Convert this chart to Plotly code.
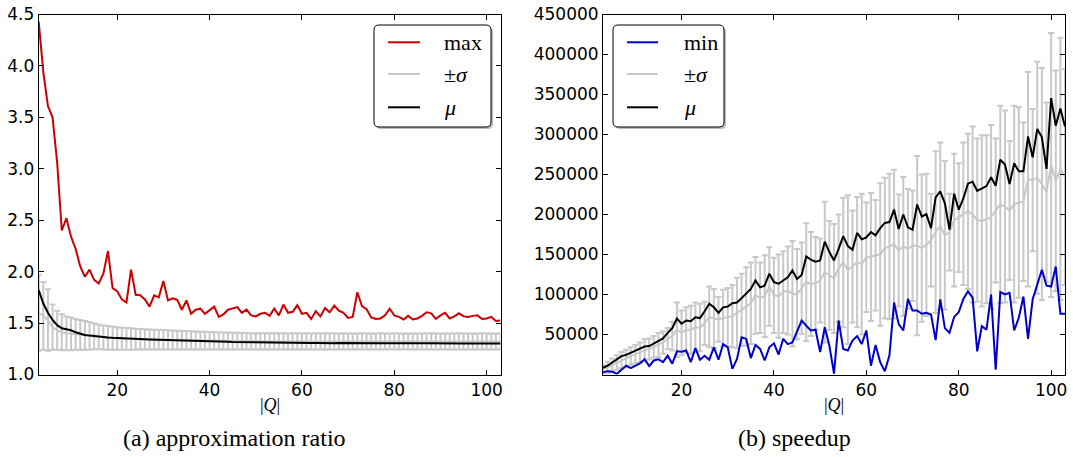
import plotly.graph_objects as go

W, H = 1073, 457

# ---------------- data ----------------
Q_SIZES = list(range(3, 104))

# (a) approximation ratio
ratio_max = [4.43, 3.94, 3.61, 3.50, 3.06, 2.40, 2.52, 2.34, 2.22, 2.05,
             1.95, 2.02, 1.92, 1.885, 1.98, 2.20, 1.84, 1.81, 1.73, 1.70,
             2.02, 1.775, 1.77, 1.73, 1.66, 1.77, 1.75, 1.91, 1.72, 1.74,
             1.725, 1.63, 1.72, 1.59, 1.63, 1.64, 1.59, 1.625, 1.66, 1.56,
             1.585, 1.63, 1.64, 1.655, 1.60, 1.63, 1.575, 1.565, 1.59, 1.60,
             1.57, 1.64, 1.575, 1.68, 1.60, 1.61, 1.675, 1.59, 1.60, 1.54,
             1.615, 1.565, 1.645, 1.605, 1.67, 1.62, 1.60, 1.55, 1.56, 1.80,
             1.665, 1.635, 1.555, 1.54, 1.545, 1.575, 1.64, 1.575, 1.56, 1.535,
             1.57, 1.535, 1.545, 1.57, 1.605, 1.595, 1.54, 1.575, 1.60, 1.545,
             1.565, 1.595, 1.565, 1.56, 1.57, 1.575, 1.54, 1.545, 1.56, 1.52,
             1.525]
ratio_mean = [1.82, 1.69, 1.60, 1.53, 1.48, 1.45, 1.44, 1.43, 1.41, 1.395,
              1.385, 1.378, 1.372, 1.368, 1.364, 1.36, 1.357, 1.354, 1.352, 1.35,
              1.349, 1.347, 1.345, 1.343, 1.341, 1.34, 1.339, 1.337, 1.335, 1.334,
              1.333, 1.331, 1.33, 1.328, 1.327, 1.325, 1.324, 1.322, 1.321, 1.32,
              1.319, 1.318, 1.316, 1.315, 1.314, 1.313, 1.312, 1.311, 1.31, 1.31,
              1.309, 1.31, 1.308, 1.309, 1.308, 1.307, 1.308, 1.306, 1.307, 1.306,
              1.307, 1.305, 1.306, 1.306, 1.305, 1.306, 1.305, 1.304, 1.305, 1.305,
              1.304, 1.305, 1.304, 1.303, 1.304, 1.304, 1.303, 1.304, 1.303, 1.303,
              1.304, 1.303, 1.302, 1.303, 1.303, 1.302, 1.303, 1.302, 1.302, 1.303,
              1.302, 1.302, 1.301, 1.302, 1.302, 1.301, 1.302, 1.301, 1.301, 1.302,
              1.301]
ratio_center = [1.60, 1.57, 1.53, 1.46, 1.43, 1.41, 1.40, 1.395, 1.39, 1.385,
                1.38, 1.375, 1.37, 1.365, 1.36, 1.356, 1.353, 1.35, 1.348, 1.346,
                1.345, 1.344, 1.342, 1.341, 1.34, 1.339, 1.338, 1.337, 1.336, 1.335,
                1.334, 1.333, 1.332, 1.331, 1.33, 1.329, 1.329, 1.328, 1.327, 1.327,
                1.326, 1.326, 1.325, 1.325, 1.324, 1.324, 1.323, 1.323, 1.323, 1.322,
                1.322, 1.323, 1.322, 1.322, 1.321, 1.322, 1.322, 1.321, 1.322, 1.321,
                1.322, 1.321, 1.321, 1.322, 1.321, 1.321, 1.322, 1.321, 1.321, 1.321,
                1.322, 1.321, 1.321, 1.321, 1.322, 1.321, 1.321, 1.321, 1.321, 1.322,
                1.321, 1.321, 1.321, 1.321, 1.322, 1.321, 1.321, 1.321, 1.321, 1.321,
                1.321, 1.322, 1.321, 1.321, 1.321, 1.321, 1.321, 1.321, 1.321, 1.321,
                1.321]
ratio_sigma = [0.37, 0.33, 0.30, 0.22, 0.19, 0.175, 0.165, 0.16, 0.15, 0.145,
               0.14, 0.135, 0.125, 0.12, 0.117, 0.115, 0.113, 0.11, 0.108, 0.106,
               0.104, 0.102, 0.10, 0.099, 0.098, 0.097, 0.096, 0.095, 0.094, 0.093,
               0.092, 0.091, 0.09, 0.089, 0.088, 0.087, 0.086, 0.085, 0.084, 0.083,
               0.083, 0.082, 0.081, 0.081, 0.08, 0.08, 0.079, 0.079, 0.079, 0.078,
               0.078, 0.079, 0.078, 0.078, 0.077, 0.078, 0.079, 0.078, 0.078, 0.077,
               0.078, 0.078, 0.079, 0.078, 0.077, 0.078, 0.078, 0.078, 0.077, 0.078,
               0.079, 0.078, 0.078, 0.077, 0.078, 0.078, 0.078, 0.079, 0.078, 0.077,
               0.078, 0.078, 0.078, 0.077, 0.078, 0.079, 0.078, 0.078, 0.077, 0.078,
               0.078, 0.078, 0.078, 0.077, 0.078, 0.078, 0.079, 0.078, 0.078, 0.078,
               0.078]

# (b) speedup
speed_min = [2900, 4200, 3500, 800, 5800, 11000, 8000, 11000, 14000, 19000,
             10500, 17500, 19000, 15500, 23500, 13500, 29000, 28500, 30000, 15500,
             33000, 18500, 23500, 18500, 34000, 18500, 38000, 34000, 7000, 19500,
             46500, 44500, 20500, 37000, 32000, 17500, 34000, 39000, 25000, 44500,
             38000, 40000, 53000, 67500, 61000, 55000, 56000, 28000, 59000, 36000,
             1000, 67500, 32000, 30000, 42500, 48000, 38000, 55000, 11000, 37000,
             15500, 4000, 24000, 90000, 63000, 55000, 94500, 80000, 80000, 76000,
             77000, 75000, 43000, 94000, 58000, 52000, 72000, 78000, 94500, 104000,
             96000, 29000, 60500, 56000, 100000, 6000, 103000, 100000, 102000, 55000,
             71000, 97500, 44500, 94000, 112500, 131000, 111000, 110000, 135000, 76000,
             76000]
speed_mean = [8300, 11000, 15000, 19000, 23000, 24500, 27000, 30000, 32000, 35000,
              35500, 38500, 42000, 45000, 52000, 58000, 70000, 63500, 67500, 66500,
              71500, 70500, 79000, 88500, 84000, 77000, 84000, 85000, 89000, 90000,
              95500, 101000, 107000, 117500, 109000, 111000, 126000, 115500, 113500, 117500,
              121500, 130000, 119500, 124500, 147500, 143500, 141000, 142500, 166000, 153000,
              142500, 157000, 173000, 160500, 156000, 177000, 169000, 171500, 178000, 174000,
              183000, 189500, 190500, 206000, 182000, 200000, 184000, 181000, 212500, 197500,
              200500, 183000, 221500, 229000, 214000, 181000, 226000, 206000, 220000, 238500,
              241000, 229500, 232000, 235500, 246500, 236000, 268500, 262500, 238000, 264000,
              254000, 254000, 297500, 271500, 307000, 296500, 257000, 345500, 311000, 332500,
              310000]
speed_center = [6000, 9000, 12000, 15000, 18000, 20000, 23000, 25500, 27500, 30000,
                32000, 34500, 37000, 40000, 45000, 48000, 56000, 52000, 55500, 56000,
                59000, 58500, 64000, 72000, 70000, 69000, 70500, 71500, 73000, 77000,
                81000, 85000, 89000, 99000, 96000, 98000, 110000, 99000, 98000, 103000,
                105000, 101000, 100500, 108000, 115500, 113000, 114000, 117500, 128000, 124000,
                120000, 133000, 140000, 131000, 135000, 140500, 138000, 146500, 147000, 149000,
                150000, 158000, 160000, 163000, 155000, 160000, 157000, 161000, 161000, 158000,
                162000, 168000, 178000, 186000, 174000, 178000, 193000, 196000, 201000, 204000,
                200000, 193000, 192000, 194000, 197000, 205000, 212500, 210000, 205000, 213000,
                215000, 216000, 244000, 243000, 246000, 238000, 228000, 262000, 242000, 257000,
                247000]
speed_sigma = [6000, 7000, 8000, 9000, 10000, 11000, 11000, 11500, 12500, 14000,
               13000, 13500, 15000, 14000, 13000, 18000, 34000, 28000, 28500, 30000,
               31000, 29500, 27000, 38000, 37000, 28000, 35500, 36500, 39000, 44000,
               45000, 49000, 51000, 48000, 44000, 51000, 49000, 47000, 52000, 51000,
               55000, 66000, 56500, 57000, 73500, 65000, 58000, 52500, 88000, 68000,
               68000, 67000, 81000, 93000, 70000, 81500, 88000, 68500, 80000, 69000,
               89000, 88000, 91000, 93000, 70000, 87000, 75000, 69000, 112000, 92000,
               89000, 58000, 101000, 104000, 93000, 48000, 83000, 68000, 89000, 97000,
               110000, 102000, 107000, 105000, 115000, 90000, 123500, 120000, 87000, 123000,
               119000, 99000, 134000, 89000, 145000, 145000, 112000, 165000, 138000, 164000,
               135000]

# ---------------- style ----------------
RED = "#cc0000"
BLUE = "#0000cc"
GRAY = "#c8c8c8"
BLACK = "#000000"
TICK_FONT = dict(family="DejaVu Sans", size=17, color="black")
SERIF = "Liberation Serif"

fig = go.Figure()

# (a)
fig.add_trace(go.Scatter(x=Q_SIZES, y=ratio_center, mode="lines",
                         line=dict(color=GRAY, width=2),
                         error_y=dict(type="data", array=ratio_sigma, color=GRAY,
                                      thickness=2, width=3),
                         showlegend=False, xaxis="x", yaxis="y"))
fig.add_trace(go.Scatter(x=Q_SIZES, y=ratio_max, mode="lines",
                         line=dict(color=RED, width=2), showlegend=False,
                         xaxis="x", yaxis="y"))
fig.add_trace(go.Scatter(x=Q_SIZES, y=ratio_mean, mode="lines",
                         line=dict(color=BLACK, width=2), showlegend=False,
                         xaxis="x", yaxis="y"))

# (b)
fig.add_trace(go.Scatter(x=Q_SIZES, y=speed_center, mode="lines",
                         line=dict(color=GRAY, width=2),
                         error_y=dict(type="data", array=speed_sigma, color=GRAY,
                                      thickness=2, width=3),
                         showlegend=False, xaxis="x2", yaxis="y2"))
fig.add_trace(go.Scatter(x=Q_SIZES, y=speed_min, mode="lines",
                         line=dict(color=BLUE, width=2), showlegend=False,
                         xaxis="x2", yaxis="y2"))
fig.add_trace(go.Scatter(x=Q_SIZES, y=speed_mean, mode="lines",
                         line=dict(color=BLACK, width=2), showlegend=False,
                         xaxis="x2", yaxis="y2"))


def px(x):
    return x / W


def py(y):
    return 1 - y / H


axis_common = dict(showline=True, linecolor="black", linewidth=1, mirror="allticks",
                   ticks="inside", ticklen=5, tickcolor="black", tickwidth=1,
                   showgrid=False, zeroline=False, automargin=False, tickfont=TICK_FONT)

ydom = [py(374.5), py(14.5)]
fig.update_layout(
    template="none",
    width=W, height=H,
    margin=dict(l=0, r=0, t=0, b=0, pad=0, autoexpand=False),
    paper_bgcolor="white", plot_bgcolor="white",
    xaxis=dict(domain=[px(38.7), px(500.5)], range=[3, 103],
               tickvals=[20, 40, 60, 80, 100], anchor="y", **axis_common),
    yaxis=dict(domain=ydom, range=[1.0, 4.5],
               tickvals=[1.0, 1.5, 2.0, 2.5, 3.0, 3.5, 4.0, 4.5], tickformat=".1f",
               anchor="x", **axis_common),
    xaxis2=dict(domain=[px(603), px(1065)], range=[3, 103],
                tickvals=[20, 40, 60, 80, 100], anchor="y2", **axis_common),
    yaxis2=dict(domain=ydom, range=[0, 450000],
                tickvals=[50000, 100000, 150000, 200000, 250000, 300000, 350000, 400000, 450000],
                tickformat="d", anchor="x2", **axis_common),
)


def rounded_path(x0, y0, x1, y1, r):
    X = lambda v: px(v)
    Y = lambda v: py(v)
    return (f"M {X(x0 + r)} {Y(y0)} L {X(x1 - r)} {Y(y0)} Q {X(x1)} {Y(y0)} {X(x1)} {Y(y0 + r)} "
            f"L {X(x1)} {Y(y1 - r)} Q {X(x1)} {Y(y1)} {X(x1 - r)} {Y(y1)} "
            f"L {X(x0 + r)} {Y(y1)} Q {X(x0)} {Y(y1)} {X(x0)} {Y(y1 - r)} "
            f"L {X(x0)} {Y(y0 + r)} Q {X(x0)} {Y(y0)} {X(x0 + r)} {Y(y0)} Z")


def add_legend(box, line_x, text_x, rows, entries):
    x0, y0, x1, y1 = box
    fig.add_shape(type="path", xref="paper", yref="paper",
                  path=rounded_path(x0 + 2, y0 + 2, x1 + 2, y1 + 2, 5),
                  fillcolor="rgba(120,120,120,0.5)", line=dict(width=0), layer="above")
    fig.add_shape(type="path", xref="paper", yref="paper",
                  path=rounded_path(x0, y0, x1, y1, 5),
                  fillcolor="white", line=dict(color="black", width=1), layer="above")
    for yrow, (label, color) in zip(rows, entries):
        fig.add_shape(type="line", xref="paper", yref="paper",
                      x0=px(line_x[0]), x1=px(line_x[1]), y0=py(yrow), y1=py(yrow),
                      line=dict(color=color, width=2), layer="above")
        fig.add_annotation(x=px(text_x), y=py(yrow), xref="paper", yref="paper",
                           text=label, showarrow=False, xanchor="left", yanchor="middle",
                           font=dict(family=SERIF, size=22, color="black"))


add_legend((374, 25, 491, 127), (388, 420), 442, (42.3, 74, 107.3),
           [("max", RED), ("±<i>σ</i>", GRAY), ("<i>μ</i>", BLACK)])
add_legend((613, 25, 724, 127), (627, 658), 682, (42.3, 74, 107.3),
           [("min", BLUE), ("±<i>σ</i>", GRAY), ("<i>μ</i>", BLACK)])

# axis titles and captions
for cx in (269.5, 834):
    fig.add_annotation(x=px(cx), y=py(405), xref="paper", yref="paper",
                       text="|<i>Q</i>|", showarrow=False, xanchor="center", yanchor="middle",
                       font=dict(family=SERIF, size=18, color="black"))
fig.add_annotation(x=px(234), y=py(438), xref="paper", yref="paper",
                   text="(a) approximation ratio", showarrow=False,
                   xanchor="center", yanchor="middle",
                   font=dict(family=SERIF, size=24, color="black"))
fig.add_annotation(x=px(794), y=py(438), xref="paper", yref="paper",
                   text="(b) speedup", showarrow=False,
                   xanchor="center", yanchor="middle",
                   font=dict(family=SERIF, size=24, color="black"))

fig.write_html("out.html",
               config={"displayModeBar": False},
               post_script="document.body.style.margin='0';"
                           "document.body.style.overflow='hidden';")
